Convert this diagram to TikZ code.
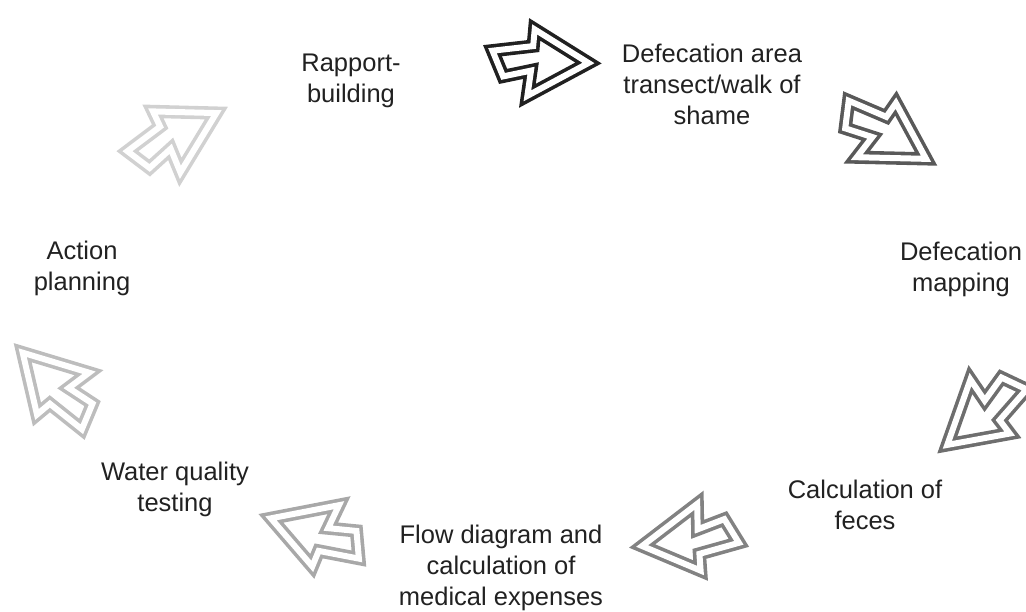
\documentclass[tikz,border=0pt]{standalone}
\usepackage{fontspec}
\setmainfont{Liberation Sans}
\tikzset{
  lbl/.style={align=center, inner sep=0pt, text=black!87, font=\fontsize{25.5}{31}\selectfont},
  zigarrow/.style={draw=#1, double=white, line width=3.6pt, double distance=6pt, line join=miter, miter limit=10}
}
\begin{document}
\begin{tikzpicture}[x=1pt,y=1pt]
\useasboundingbox (0,0) rectangle (1026,-611);
\clip (0,0) rectangle (1026,-611);
% arrows round the cycle: back-edge middle x/y, angle, grey level
\foreach \mx/\my/\ang/\shade in {524/63/0/87, 870/127/-29.6/65, 995/401.5/222.3/57, 705.8/535.7/189.2/49,
    332.5/537.5/162.7/34, 68.3/398.3/135/26, 160.8/145.8/30.5/18}
  \draw[zigarrow=black!\shade, shift={(\mx,-\my)}, rotate=\ang]
    (64.5,0) -- (10.7,33.6) -- (9.2,16.9) -- (-31.5,12.3) -- (-20.9,-13.4) -- (7,-7.6) -- (3.4,-32.8) -- cycle;
% steps (base = last line)
\node[lbl, anchor=base] (rapport) at (351,-102) {Rapport-\\building};
\node[lbl, anchor=base] (transect) at (712,-124) {Defecation area\\transect/walk of\\shame};
\node[lbl, anchor=base] (mapping) at (961,-291) {Defecation\\mapping};
\node[lbl, anchor=base] (feces) at (865,-529) {Calculation of\\feces};
\node[lbl, anchor=base] (flow) at (501,-605) {Flow diagram and\\calculation of\\medical expenses};
\node[lbl, anchor=base] (water) at (175,-511) {Water quality\\testing};
\node[lbl, anchor=base] (action) at (82,-290) {Action\\planning};
\end{tikzpicture}
\end{document}
